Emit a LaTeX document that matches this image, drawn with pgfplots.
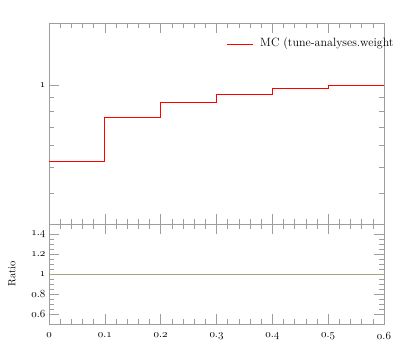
\documentclass[border=0pt]{standalone}
\usepackage{pgfplots}
\pgfplotsset{compat=1.18}
\definecolor{axgray}{rgb}{0.62,0.62,0.62}
\definecolor{olive1}{RGB}{165,165,115}
\begin{document}
\begin{tikzpicture}
\pgfplotsset{
  every axis/.append style={
    scale only axis, width=335pt,
    axis line style={axgray, line width=0.6pt},
    every tick/.style={axgray, line width=0.6pt},
    major tick length=10pt, minor tick length=5pt,
    xmin=0, xmax=0.6,
    xtick={0,0.1,0.2,0.3,0.4,0.5,0.6},
    minor x tick num=4,
    tick label style={font=\fontsize{11}{13}\selectfont},
  }
}
\begin{axis}[name=ratio, at={(0,0)}, anchor=south west, height=100pt,
  ymin=0.5, ymax=1.5,
  ytick={0.6,0.8,1,1.2,1.4}, minor y tick num=3,
  xticklabel={$\mathnormal{\pgfmathprintnumber{\tick}}$},
  yticklabel={$\mathnormal{\pgfmathprintnumber{\tick}}$},
  xticklabel style={/pgf/number format/fixed, /pgf/number format/precision=1, yshift=-5pt},
  ylabel={Ratio},
  ylabel style={at={(axis description cs:0,0.5)}, anchor=center, yshift=37pt, font=\fontsize{10.5}{12}\selectfont},
]
\addplot[olive1, line width=0.8pt] coordinates {(0,1) (0.6,1)};
\end{axis}
\begin{axis}[at={(0,100pt)}, anchor=south west, height=201pt,
  ymode=log, ymin=0.309, ymax=1.688,
  ytick={1}, yticklabels={$\mathnormal{1}$},
  minor ytick={0.4,0.5,0.6,0.7,0.8,0.9},
  xticklabels={},
  clip=false,
]
\addplot[red, line width=0.9pt, const plot] coordinates {
(0,0.522) (0.1,0.757) (0.2,0.864) (0.3,0.924) (0.4,0.967) (0.5,0.998) (0.6,0.998)};
\draw[red, line width=0.9pt] (axis description cs:0.531,0.8955) -- (axis description cs:0.609,0.8955);
\node[anchor=west, inner sep=0pt, font=\fontsize{12}{14}\selectfont] at (axis description cs:0.630,0.8955) {MC (tune-analyses.weight};
\end{axis}
\pgfresetboundingbox
\path (-49pt,-34pt) rectangle (348pt,324pt);
\end{tikzpicture}
\end{document}
